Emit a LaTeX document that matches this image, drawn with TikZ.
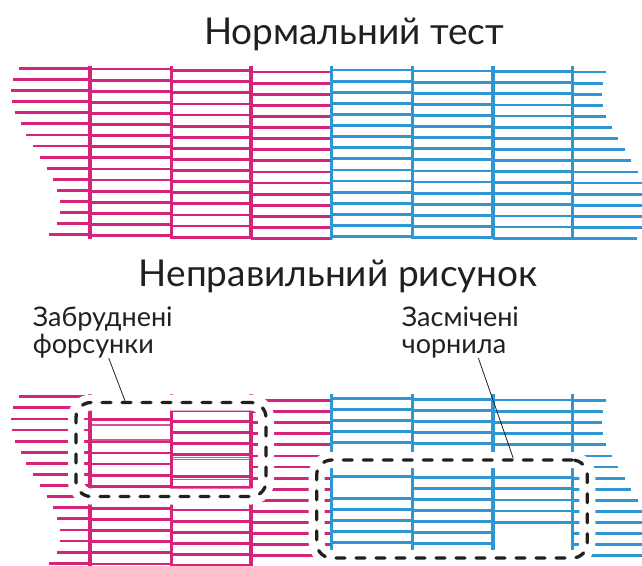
\documentclass[tikz,border=0pt]{standalone}
\usepackage{fontspec}
\setmainfont{Lato}
\usepackage{xcolor}
\definecolor{magentaInk}{HTML}{D6247A}
\definecolor{cyanInk}{HTML}{2F96D4}
\definecolor{tinta}{HTML}{231F20}
\usetikzlibrary{positioning}

% one full nozzle check pattern, rows of ink and the head seams
\newcommand{\nozzletest}{%
  \foreach \xs/\xe [count=\k from 0] in {19.3/606,13.3/602.7,11/602,12.3/603.3,15.3/606,20.7/612,26/618,33.3/624.7,
      40/631.3,46.7/638.3,52.7/650,57.3/650,60/650,60/650,57.3/650,49.3/636.7}{
    \pgfmathsetmacro{\yr}{68.3+11.1*\k}
    \foreach \xa/\xb/\dy/\ink in {\xs/90/0/magentaInk,90/171.7/0.7/magentaInk,171.7/251/2.3/magentaInk,
        251/331.5/3.7/magentaInk,331.5/412.3/1.7/cyanInk,412.3/493/2.7/cyanInk,493/572.5/3.3/cyanInk,572.5/\xe/3.7/cyanInk}
      \draw[hline,draw=\ink] (\xa,\yr+\dy) -- (\xb,\yr+\dy);
  }
  \foreach \xv/\ink in {90/magentaInk,171.7/magentaInk,251/magentaInk,331.5/cyanInk,412.3/cyanInk,493/cyanInk,572.5/cyanInk}
    \draw[vline,draw=\ink] (\xv,66) -- (\xv,238.5);
}

\begin{document}
\begin{tikzpicture}[x=1pt,y=-1pt,
  hline/.style={line width=2.8pt},
  vline/.style={line width=3.2pt},
  gone/.style={draw=white,line width=3.9pt},
  thinrow/.style={draw=magentaInk!80,line width=0.7pt},
  ttl/.style={font=\fontsize{37}{44}\selectfont,text=tinta,inner sep=0pt},
  lbl/.style={font=\fontsize{27}{27}\selectfont,text=tinta,align=left,inner sep=0pt},
  dbox/.style={draw=tinta,line width=3.3pt,rounded corners=15pt,dash pattern=on 9pt off 11pt,
    line cap=round,inner sep=0pt,preaction={draw=white,line width=16pt,solid}},
  leader/.style={draw=tinta,line width=0.8pt}]
  \useasboundingbox (0,0) rectangle (642,565);
  \clip (0,0) rectangle (642,565);

  \node[ttl,anchor=base] (normT) at (354,44.3) {Нормальний тест};
  \nozzletest

  \node[ttl,anchor=base] (badT) at (338.3,286) {Неправильний рисунок};
  \begin{scope}[shift={(0,328.4)}]
    \nozzletest
    % clogged nozzles
    \draw[gone] (91.7,102.3) -- (170,102.3);
    \foreach \yt in {95.8,97.2,110.9,112.3}
      \draw[thinrow] (91.5,\yt) -- (170.2,\yt);
    \draw[gone] (173.3,137.2) -- (249.4,137.2);
    \foreach \yt in {128.9,130.9,150.5}
      \draw[thinrow] (173.2,\yt) -- (249.5,\yt);
    % contaminated ink
    \draw[gone] (333.1,158.8) -- (410.7,158.8);
    \draw[gone] (494.6,204.8) -- (570.9,204.8);
    \draw[gone] (494.6,215.9) -- (570.9,215.9);
  \end{scope}

  \node[dbox,minimum width=190pt,minimum height=94pt] (boxA) at (171,449.5) {};
  \node[dbox,minimum width=270.6pt,minimum height=98pt] (boxB) at (452,509) {};

  \node[lbl,anchor=base west] (lblA) at (32.7,353.3) {Забруднені\\форсунки};
  \node[lbl,anchor=base west] (lblB) at (401.7,353.3) {Засмічені\\чорнила};
  \draw[leader] ([xshift=6pt]lblA.south) -- ([xshift=-46pt]boxA.north);
  \draw[leader] ([xshift=18pt]lblB.south) -- ([xshift=61.3pt]boxB.north);
\end{tikzpicture}
\end{document}
